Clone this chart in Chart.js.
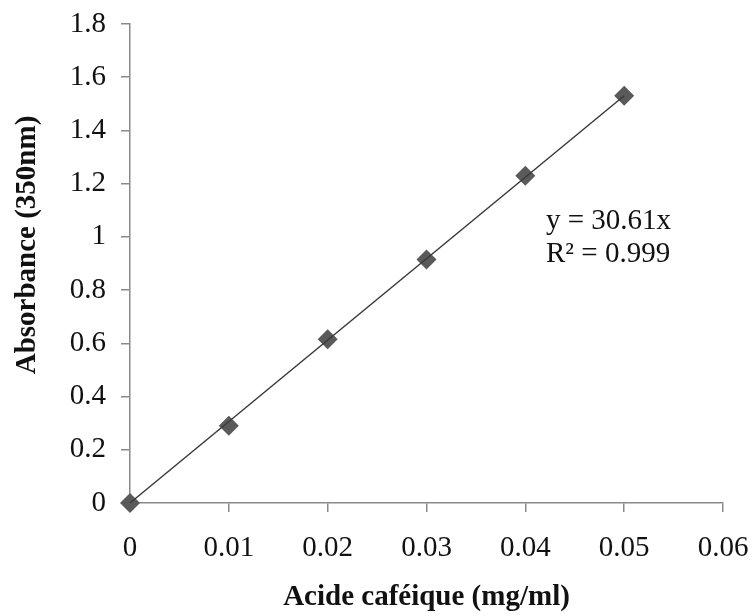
<!DOCTYPE html>
<html>
<head>
<meta charset="utf-8">
<script src="https://cdn.jsdelivr.net/npm/chart.js@4.4.1/dist/chart.umd.min.js"></script>
<style>
  html, body { margin: 0; padding: 0; background: #fff; }
  canvas { display: block; }
</style>
</head>
<body>
<canvas id="calib" width="756" height="616"></canvas>
<script>
const concentrations = [0, 0.01, 0.02, 0.03, 0.04, 0.05];
const absorbances = [0, 0.29, 0.615, 0.915, 1.23, 1.53];

// Droite de tendance y = 30.61x
const trendX = [0, 0.05];
const trendY = [0, 1.5305];

const xTickLabels = ['0', '0.01', '0.02', '0.03', '0.04', '0.05', '0.06'];
const yTickLabels = ['0', '0.2', '0.4', '0.6', '0.8', '1', '1.2', '1.4', '1.6', '1.8'];

const xTitle = 'Acide caféique (mg/ml)';
const yTitle = 'Absorbance (350nm)';
const equationLines = ['y = 30.61x', 'R\u00b2 = 0.999'];

const serif = "'Liberation Serif', 'Times New Roman', serif";
const axisGray = '#8a8a8a';
const fontSize = 29;

// équation + titre de l'axe Y (légèrement décalé vers le haut comme dans Excel)
const extraText = {
    id: 'extraText',
    afterDraw(chart) {
        const ctx = chart.ctx;
        ctx.save();
        ctx.fillStyle = '#111';
        ctx.font = fontSize + 'px ' + serif;
        ctx.textAlign = 'left';
        ctx.textBaseline = 'alphabetic';
        ctx.fillText(equationLines[0], 546, 229);
        ctx.fillText(equationLines[1], 546, 262);

        ctx.translate(28, 245);
        ctx.rotate(-Math.PI / 2);
        ctx.font = 'bold ' + fontSize + 'px ' + serif;
        ctx.textAlign = 'center';
        ctx.textBaseline = 'middle';
        ctx.fillText(yTitle, 0, 0);
        ctx.restore();
    }
};

// pas de marge automatique autour des étiquettes, la mise en page vient de layout.padding
function noLabelPadding(scale) {
    scale.paddingTop = 0;
    scale.paddingBottom = 0;
    scale.paddingLeft = 0;
    scale.paddingRight = 0;
}

const ctx = document.getElementById('calib').getContext('2d');
new Chart(ctx, {
    type: 'scatter',
    data: {
        datasets: [
            {
                label: 'Tendance',
                data: trendX.map((x, i) => ({ x, y: trendY[i] })),
                showLine: true,
                borderColor: '#3a3a3a',
                borderWidth: 1.5,
                pointRadius: 0,
                clip: false,
                order: 0
            },
            {
                label: 'Acide caféique',
                data: concentrations.map((x, i) => ({ x, y: absorbances[i] })),
                pointStyle: 'rectRot',
                pointRadius: 10,
                pointBackgroundColor: '#5a5a5a',
                pointBorderColor: '#5a5a5a',
                pointBorderWidth: 0,
                clip: false,
                order: 1
            }
        ]
    },
    options: {
        responsive: false,
        animation: false,
        devicePixelRatio: 1,
        layout: { padding: { top: 24, right: 33, left: 0, bottom: 0 } },
        plugins: {
            legend: { display: false },
            tooltip: { enabled: false }
        },
        scales: {
            x: {
                type: 'linear',
                min: 0,
                max: 0.06,
                afterFit(scale) { scale.height = 113; noLabelPadding(scale); },
                grid: { drawOnChartArea: false, drawTicks: true, tickLength: 9, color: axisGray, lineWidth: 1.5 },
                border: { color: axisGray, width: 1.5 },
                ticks: {
                    stepSize: 0.01,
                    padding: 19,
                    color: '#111',
                    font: { family: serif, size: fontSize },
                    callback: (v, i) => xTickLabels[i] ?? v
                },
                title: {
                    display: true,
                    text: xTitle,
                    color: '#111',
                    font: { family: serif, size: fontSize, weight: 'bold' },
                    padding: { top: 0, bottom: 1 }
                }
            },
            y: {
                min: 0,
                max: 1.8,
                afterFit(scale) { scale.width = 130; noLabelPadding(scale); },
                grid: { drawOnChartArea: false, drawTicks: true, tickLength: 9, color: axisGray, lineWidth: 1.5 },
                border: { color: axisGray, width: 1.5 },
                ticks: {
                    stepSize: 0.2,
                    padding: 15,
                    color: '#111',
                    font: { family: serif, size: fontSize },
                    callback: (v, i) => yTickLabels[i] ?? v
                },
                title: { display: false }
            }
        }
    },
    plugins: [extraText]
});
</script>
</body>
</html>
